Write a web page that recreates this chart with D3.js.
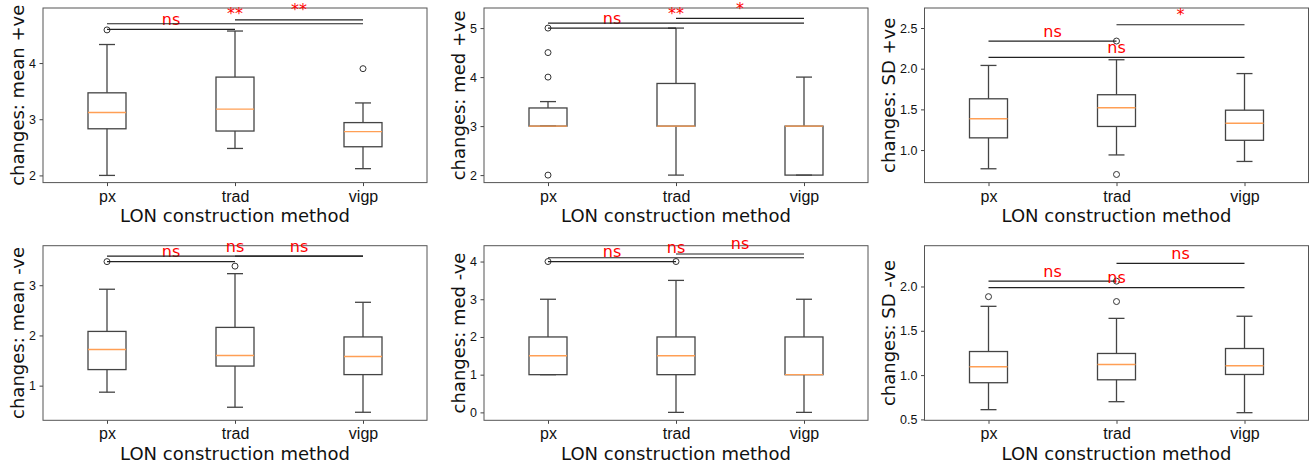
<!DOCTYPE html>
<html>
<head>
<meta charset="utf-8">
<script src="https://cdn.jsdelivr.net/npm/d3@7"></script>
<style>
  body { margin: 0; background: #fff; }
  svg { font-family: "DejaVu Sans", sans-serif; }
</style>
</head>
<body>
<div id="chart"></div>
<script>
// categories on the x axis of every panel
const GROUPS = ["px", "trad", "vigp"];

// y labels of the six panels (row by row)
const METRICS = ["mean +ve", "med +ve", "SD +ve", "mean -ve", "med -ve", "SD -ve"];

// box stats per group: [whisker low, q1, median, q3, whisker high]
const meanPosBox = [[2.00, 2.83, 3.12, 3.47, 4.33], [2.48, 2.79, 3.18, 3.75, 4.57], [2.12, 2.51, 2.78, 2.94, 3.29]];
const medPosBox  = [[3.00, 3.00, 3.00, 3.37, 3.50], [2.00, 3.00, 3.00, 3.87, 5.00], [2.00, 2.00, 3.00, 3.00, 4.00]];
const sdPosBox   = [[0.77, 1.15, 1.385, 1.63, 2.04], [0.94, 1.29, 1.52, 1.68, 2.11], [0.86, 1.12, 1.33, 1.49, 1.94]];
const meanNegBox = [[0.87, 1.32, 1.72, 2.08, 2.92], [0.57, 1.39, 1.60, 2.16, 3.23], [0.47, 1.22, 1.58, 1.97, 2.66]];
const medNegBox  = [[1.00, 1.00, 1.50, 2.00, 3.00], [0.00, 1.00, 1.50, 2.00, 3.50], [0.00, 1.00, 1.00, 2.00, 3.00]];
const sdNegBox   = [[0.61, 0.914, 1.094, 1.266, 1.776], [0.70, 0.947, 1.12, 1.244, 1.64], [0.576, 1.007, 1.105, 1.30, 1.664]];

// fliers per group
const meanPosOut = [[4.59], [], [3.90]];
const medPosOut  = [[5.0, 4.5, 4.0, 2.0], [], []];
const sdPosOut   = [[], [0.70, 2.34], []];
const meanNegOut = [[3.47], [3.38], []];
const medNegOut  = [[4.0], [4.0], []];
const sdNegOut   = [[1.885], [1.83, 2.06], []];

// significance brackets: [group a, group b, height, label]
const meanPosSig = [[0, 1, 4.60, "ns"], [0, 2, 4.70, "**"], [1, 2, 4.77, "**"]];
const medPosSig  = [[0, 1, 5.00, "ns"], [0, 2, 5.10, "**"], [1, 2, 5.20, "*"]];
const sdPosSig   = [[0, 1, 2.34, "ns"], [0, 2, 2.14, "ns"], [1, 2, 2.54, "*"]];
const meanNegSig = [[0, 1, 3.47, "ns"], [0, 2, 3.58, "ns"], [1, 2, 3.58, "ns"]];
const medNegSig  = [[0, 1, 4.00, "ns"], [0, 2, 4.10, "ns"], [1, 2, 4.20, "ns"]];
const sdNegSig   = [[0, 1, 2.06, "ns"], [0, 2, 1.986, "ns"], [1, 2, 2.26, "ns"]];

// y limits and ticks per panel
const Y_LIMS = [[1.872, 4.98], [1.847, 5.41], [0.60, 2.746], [0.31, 3.787], [-0.21, 4.42], [0.49, 2.46]];
const Y_TICKS = [[2, 3, 4], [2, 3, 4, 5], [1.0, 1.5, 2.0, 2.5], [1, 2, 3], [0, 1, 2, 3, 4], [0.5, 1.0, 1.5, 2.0]];
const Y_FMT = [".0f", ".0f", ".1f", ".0f", ".0f", ".1f"];

const BOXES = [meanPosBox, medPosBox, sdPosBox, meanNegBox, medNegBox, sdNegBox];
const OUTS = [meanPosOut, medPosOut, sdPosOut, meanNegOut, medNegOut, sdNegOut];
const SIGS = [meanPosSig, medPosSig, sdPosSig, meanNegSig, medNegSig, sdNegSig];

// frame layout
const FRAME_WIDTH = 1309;
const FRAME_HEIGHT = 465;
const PANEL_LEFT = [43, 484, 924.5];
const PANEL_TOP = [8, 245.7];
const PANEL_W = 384;
const PANEL_H = 174.6;
const BOX_W = 38;
const CAP_W = 16;

const svg = d3.select("#chart")
  .append("svg")
    .attr("width", FRAME_WIDTH)
    .attr("height", FRAME_HEIGHT);

BOXES.forEach((boxes, k) => {
  const left = PANEL_LEFT[k % 3];
  const top = PANEL_TOP[Math.floor(k / 3)];

  const g = svg.append("g").attr("transform", "translate(" + left + "," + top + ")");

  // x positions 1..3 with half-unit padding, like matplotlib
  const x = d3.scaleLinear().domain([0.5, 3.5]).range([0, PANEL_W]);
  const y = d3.scaleLinear().domain(Y_LIMS[k]).range([PANEL_H, 0]);

  // axes
  const yAxis = g.append("g")
    .call(d3.axisLeft(y).tickValues(Y_TICKS[k]).tickFormat(d3.format(Y_FMT[k])).tickSize(3.5).tickPadding(3.5));
  yAxis.select(".domain").remove();
  yAxis.selectAll("line").attr("stroke", "#444");
  yAxis.selectAll("text").attr("font-size", "12.5px").attr("fill", "#111");

  const xAxis = g.append("g")
    .attr("transform", "translate(0," + PANEL_H + ")")
    .call(d3.axisBottom(x).tickValues([1, 2, 3]).tickFormat((d) => GROUPS[d - 1]).tickSize(3.5).tickPadding(3));
  xAxis.select(".domain").remove();
  xAxis.selectAll("line").attr("stroke", "#444");
  xAxis.selectAll("text").attr("font-size", "16px").attr("fill", "#111").attr("dy", null).attr("y", 19);

  // frame
  g.append("rect")
    .attr("width", PANEL_W).attr("height", PANEL_H)
    .attr("fill", "none").attr("stroke", "#555").attr("stroke-width", 1);

  // boxes
  boxes.forEach((b, i) => {
    const cx = x(i + 1);
    const bg = g.append("g").attr("stroke", "#444").attr("stroke-width", 1.3).attr("fill", "none");
    // whiskers
    bg.append("line").attr("x1", cx).attr("x2", cx).attr("y1", y(b[0])).attr("y2", y(b[1]));
    bg.append("line").attr("x1", cx).attr("x2", cx).attr("y1", y(b[3])).attr("y2", y(b[4]));
    // caps
    bg.append("line").attr("x1", cx - CAP_W / 2).attr("x2", cx + CAP_W / 2).attr("y1", y(b[0])).attr("y2", y(b[0]));
    bg.append("line").attr("x1", cx - CAP_W / 2).attr("x2", cx + CAP_W / 2).attr("y1", y(b[4])).attr("y2", y(b[4]));
    // box
    bg.append("rect")
      .attr("x", cx - BOX_W / 2).attr("width", BOX_W)
      .attr("y", y(b[3])).attr("height", y(b[1]) - y(b[3]));
    // median
    g.append("line")
      .attr("x1", cx - BOX_W / 2).attr("x2", cx + BOX_W / 2)
      .attr("y1", y(b[2])).attr("y2", y(b[2]))
      .attr("stroke", "#ff9f55").attr("stroke-width", 1.4);
    // fliers
    g.selectAll(null)
      .data(OUTS[k][i])
      .enter()
      .append("circle")
        .attr("cx", cx).attr("cy", (d) => y(d)).attr("r", 3)
        .attr("fill", "none").attr("stroke", "#333").attr("stroke-width", 1);
  });

  // significance lines and labels
  SIGS[k].forEach((s) => {
    const x1 = x(s[0] + 1), x2 = x(s[1] + 1), yy = y(s[2]);
    g.append("line")
      .attr("x1", x1).attr("x2", x2).attr("y1", yy).attr("y2", yy)
      .attr("stroke", "#222").attr("stroke-width", 1.2);
    g.append("text")
      .attr("x", (x1 + x2) / 2).attr("y", yy - 4.5)
      .attr("text-anchor", "middle")
      .attr("font-size", "16px")
      .attr("fill", "red")
      .text(s[3]);
  });

  // axis labels
  g.append("text")
    .attr("x", PANEL_W / 2).attr("y", PANEL_H + 39.5)
    .attr("text-anchor", "middle")
    .attr("font-size", "18px")
    .attr("fill", "#111")
    .text("LON construction method");

  const tb = yAxis.node().getBBox();
  g.append("text")
    .attr("transform", "translate(" + (tb.x - 5) + "," + (PANEL_H / 2) + ") rotate(-90)")
    .attr("text-anchor", "middle")
    .attr("font-size", "18px")
    .attr("fill", "#111")
    .text("changes: " + METRICS[k]);
});
</script>
</body>
</html>
